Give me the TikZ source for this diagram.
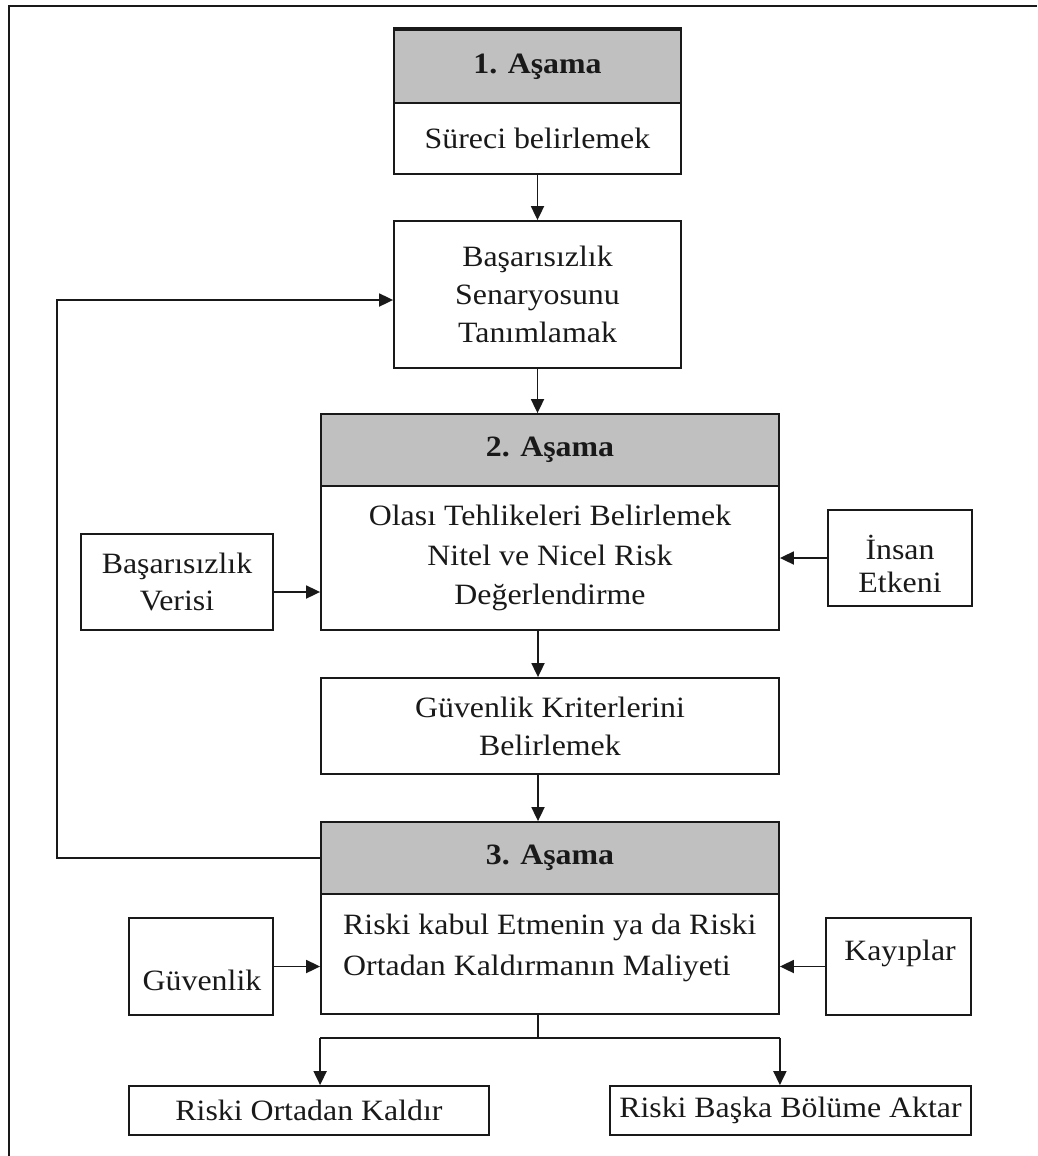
\documentclass[tikz,border=0pt]{standalone}
\usepackage{fontspec}
\setmainfont{Liberation Serif}[FakeStretch=1.08]
\usetikzlibrary{arrows.meta}
\definecolor{hdr}{RGB}{192,192,192}
\definecolor{ink}{RGB}{25,25,25}
\tikzset{
  box/.style={draw=ink, line width=1.8pt, rectangle, inner sep=0pt, align=center,
    font=\fontsize{29.5}{38}\selectfont, text=ink},
  hbox/.style={box, fill=hdr, font=\fontsize{29.5}{38}\selectfont\bfseries},
  txt/.style={inner sep=0pt, font=\fontsize{29.5}{38}\selectfont, text=ink},
  arr/.style={draw=ink, line width=1.8pt, -{Triangle[length=14pt,width=13pt]}},
  ln/.style={draw=ink, line width=1.8pt},
}
\begin{document}
\begin{tikzpicture}[x=1pt,y=-1pt]
\useasboundingbox (0,0) rectangle (1037,1156);
% frame
\draw[ink, line width=2pt] (9,1156) -- (9,6) -- (1037,6);
% stage 1
\node[hbox, minimum width=287pt, minimum height=73pt] (s1h) at (537.5,66.5) {1. Aşama};
\draw[ink, line width=3.2pt] (s1h.north west) -- (s1h.north east);
\node[box, minimum width=287pt, minimum height=71pt] (s1b) at (537.5,138.5) {Süreci belirlemek};
\node[box, minimum width=287pt, minimum height=147pt] (b2) at (537.5,294.5) {Başarısızlık\\Senaryosunu\\Tanımlamak};
% stage 2
\node[hbox, minimum width=458pt, minimum height=72pt] (s2h) at (550,450) {2. Aşama};
\node[box, minimum width=458pt, minimum height=144pt, font=\fontsize{29.5}{39.5}\selectfont] (s2b) at (550,558) {Olası Tehlikeleri Belirlemek\\Nitel ve Nicel Risk\\Değerlendirme};
\node[box, minimum width=192pt, minimum height=96pt, font=\fontsize{29.5}{37}\selectfont] (bv) at (177,582) {Başarısızlık\\Verisi};
\node[box, minimum width=144pt, minimum height=96pt] (ie) at (900,558) {};
\node[txt, align=center, font=\fontsize{29.5}{33}\selectfont] (iet) at (900,563.5) {İnsan\\Etkeni};
\node[box, minimum width=458pt, minimum height=96pt] (gk) at (550,726) {Güvenlik Kriterlerini\\Belirlemek};
% stage 3
\node[hbox, minimum width=458pt, minimum height=72pt] (s3h) at (550,858) {3. Aşama};
\node[box, minimum width=458pt, minimum height=120pt] (s3b) at (550,954) {};
\node[txt, align=left, anchor=west, font=\fontsize{29.5}{41}\selectfont] (s3t) at (343,947.5) {Riski kabul Etmenin ya da Riski\\Ortadan Kaldırmanın Maliyeti};
\node[box, minimum width=144pt, minimum height=97pt] (gv) at (201,966.5) {};
\node[txt] (gvt) at (202,980) {Güvenlik};
\node[box, minimum width=145pt, minimum height=97pt] (ky) at (898.5,966.5) {};
\node[txt] (kyt) at (900,953) {Kayıplar};
\node[box, minimum width=360pt, minimum height=49pt] (ro) at (309,1110.5) {Riski Ortadan Kaldır};
\node[box, minimum width=361pt, minimum height=49pt] (rb) at (790.5,1110.5) {Riski Başka Bölüme Aktar};
% helper coordinates
\coordinate (spine) at (538,0);
\coordinate (split) at (0,1038);
\coordinate (fb) at (57,0);
% connectors
\draw[arr] (s1b.south) -- (b2.north);
\draw[arr] (b2.south) -- (b2.south |- s2h.north);
\draw[arr] (spine |- s2b.south) -- (spine |- gk.north);
\draw[arr] (spine |- gk.south) -- (spine |- s3h.north);
\draw[arr] ([yshift=-10pt]bv.east) -- ([yshift=-10pt]bv.east -| s2b.west);
\draw[arr] (ie.west) -- (ie.west -| s2b.east);
\draw[arr] (gv.east) -- (gv.east -| s3b.west);
\draw[arr] (ky.west) -- (ky.west -| s3b.east);
\draw[arr] (s3h.west) -- (s3h.west -| fb) |- ([yshift=-5.5pt]b2.west);
\draw[ln] (spine |- s3b.south) -- (spine |- split);
\draw[ln] (split -| s3b.west) -- (split -| s3b.east);
\draw[arr] (split -| s3b.west) -- (s3b.west |- ro.north);
\draw[arr] (split -| s3b.east) -- (s3b.east |- rb.north);
\end{tikzpicture}
\end{document}
